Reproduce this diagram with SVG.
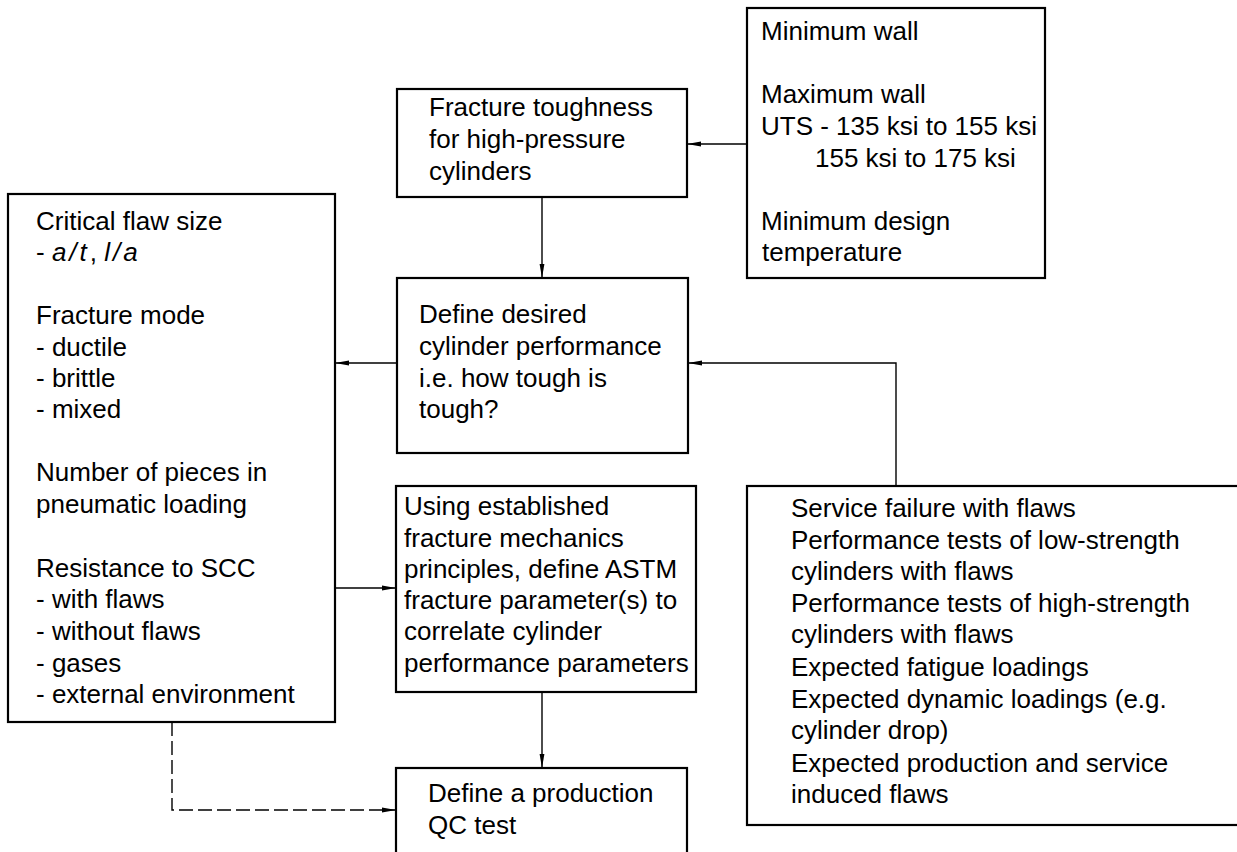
<svg xmlns="http://www.w3.org/2000/svg" width="1237" height="852" viewBox="0 0 1237 852">
<style>
.box{fill:#fff;stroke:#000;stroke-width:2.2}
.t{font-family:"Liberation Sans",Arial,sans-serif;font-size:26px;fill:#000}
.i{font-style:italic;letter-spacing:3px}
.c{fill:none;stroke:#000;stroke-width:1.4}
.d{stroke-dasharray:14 5}
</style>
<defs>
<marker id="ah" viewBox="0 0 14 6" refX="14" refY="3" markerWidth="14" markerHeight="6" markerUnits="userSpaceOnUse" orient="auto">
<path d="M0,0.6 L14,3 L0,5.4 Z" fill="#000"/>
</marker>
</defs>
<rect width="1237" height="852" fill="#fff"/>
<g id="connectors">
<path class="c" d="M747,144 H687" marker-end="url(#ah)"/>
<path class="c" d="M542,197 V278" marker-end="url(#ah)"/>
<path class="c" d="M397,363 H335" marker-end="url(#ah)"/>
<path class="c" d="M896,486 V363 H688" marker-end="url(#ah)"/>
<path class="c" d="M335,588 H396" marker-end="url(#ah)"/>
<path class="c" d="M542,692 V768" marker-end="url(#ah)"/>
<path class="c d" d="M172,722 V810 H396" marker-end="url(#ah)"/>
</g>
<g id="n_inputs">
<rect class="box" x="747" y="8" width="298" height="270"/>
<text class="t" x="761" y="40">Minimum wall</text>
<text class="t" x="761" y="103">Maximum wall</text>
<text class="t" x="761" y="135">UTS - 135 ksi to 155 ksi</text>
<text class="t" x="815" y="167">155 ksi to 175 ksi</text>
<text class="t" x="761" y="230">Minimum design</text>
<text class="t" x="762" y="261">temperature</text>
</g>
<g id="n_toughness">
<rect class="box" x="397" y="89" width="290" height="108"/>
<text class="t" x="429" y="116">Fracture toughness</text>
<text class="t" x="429" y="148">for high-pressure</text>
<text class="t" x="429" y="180">cylinders</text>
</g>
<g id="n_define">
<rect class="box" x="397" y="278" width="291" height="175"/>
<text class="t" x="419" y="323">Define desired</text>
<text class="t" x="419" y="355">cylinder performance</text>
<text class="t" x="419" y="387">i.e. how tough is</text>
<text class="t" x="419" y="418">tough?</text>
</g>
<g id="n_criteria">
<rect class="box" x="8" y="194" width="327" height="528"/>
<text class="t" x="36" y="230">Critical flaw size</text>
<text class="t" x="36" y="261">- <tspan class="i">a/t</tspan>, <tspan class="i">l/a</tspan></text>
<text class="t" x="36" y="324">Fracture mode</text>
<text class="t" x="36" y="356">- ductile</text>
<text class="t" x="36" y="387">- brittle</text>
<text class="t" x="36" y="418">- mixed</text>
<text class="t" x="36" y="481">Number of pieces in</text>
<text class="t" x="36" y="513">pneumatic loading</text>
<text class="t" x="36" y="577">Resistance to SCC</text>
<text class="t" x="36" y="608">- with flaws</text>
<text class="t" x="36" y="640">- without flaws</text>
<text class="t" x="36" y="672">- gases</text>
<text class="t" x="36" y="703">- external environment</text>
</g>
<g id="n_mechanics">
<rect class="box" x="396" y="486" width="300" height="206"/>
<text class="t" x="404" y="515">Using established</text>
<text class="t" x="404" y="547">fracture mechanics</text>
<text class="t" x="404" y="578">principles, define ASTM</text>
<text class="t" x="404" y="609">fracture parameter(s) to</text>
<text class="t" x="404" y="640">correlate cylinder</text>
<text class="t" x="404" y="672">performance parameters</text>
</g>
<g id="n_service">
<rect class="box" x="747" y="486" width="500" height="339"/>
<text class="t" x="791" y="517">Service failure with flaws</text>
<text class="t" x="791" y="549">Performance tests of low-strength</text>
<text class="t" x="791" y="580">cylinders with flaws</text>
<text class="t" x="791" y="612">Performance tests of high-strength</text>
<text class="t" x="791" y="643">cylinders with flaws</text>
<text class="t" x="791" y="676">Expected fatigue loadings</text>
<text class="t" x="791" y="708">Expected dynamic loadings (e.g.</text>
<text class="t" x="791" y="739">cylinder drop)</text>
<text class="t" x="791" y="772">Expected production and service</text>
<text class="t" x="791" y="803">induced flaws</text>
</g>
<g id="n_qc">
<rect class="box" x="396" y="768" width="291" height="100"/>
<text class="t" x="428" y="802">Define a production</text>
<text class="t" x="428" y="834">QC test</text>
</g>
</svg>
